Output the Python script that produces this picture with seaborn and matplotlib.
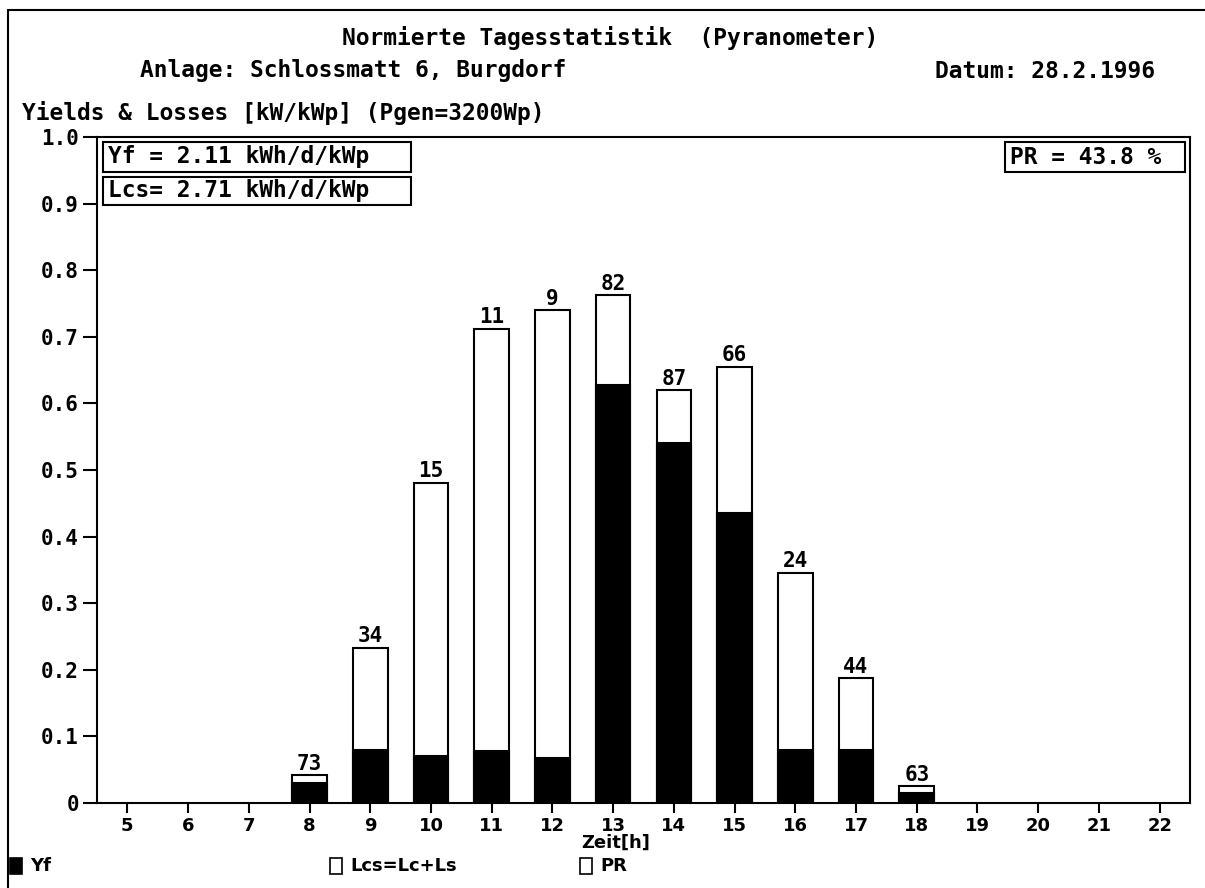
import numpy as np
import pandas as pd
import matplotlib
matplotlib.use("Agg")
import matplotlib.pyplot as plt
import seaborn as sns
from matplotlib.patches import Rectangle
from matplotlib.lines import Line2D

# ---- data ----
hours = [8, 9, 10, 11, 12, 13, 14, 15, 16, 17, 18]
yf = [0.030, 0.079, 0.071, 0.078, 0.068, 0.627, 0.540, 0.435, 0.080, 0.080, 0.015]
lcs = [0.012, 0.154, 0.410, 0.634, 0.672, 0.136, 0.080, 0.220, 0.266, 0.107, 0.010]
pr_labels = [73, 34, 15, 11, 9, 82, 87, 66, 24, 44, 63]
x_ticks = list(range(5, 23))
y_ticks = [0, 0.1, 0.2, 0.3, 0.4, 0.5, 0.6, 0.7, 0.8, 0.9, 1.0]
y_ticklabels = ["0", "0.1", "0.2", "0.3", "0.4", "0.5", "0.6", "0.7", "0.8", "0.9", "1.0"]

title = "Normierte Tagesstatistik  (Pyranometer)"
anlage = "Anlage: Schlossmatt 6, Burgdorf"
datum = "Datum: 28.2.1996"
ylabel = "Yields & Losses [kW/kWp] (Pgen=3200Wp)"
box_yf = "Yf = 2.11 kWh/d/kWp"
box_lcs = "Lcs= 2.71 kWh/d/kWp"
box_pr = "PR = 43.8 %"
xlabel = "Zeit[h]"
legend_items = ["Yf", "Lcs=Lc+Ls", "PR"]

df = pd.DataFrame({"hour": hours, "yf": yf, "lcs": lcs})
df["total"] = df["yf"] + df["lcs"]

sns.set_theme(style="ticks")
plt.rcParams["font.family"] = ["DejaVu Sans Mono", "DejaVu Sans"]
plt.rcParams["font.weight"] = "bold"
plt.rcParams["text.color"] = "black"
plt.rcParams["xtick.color"] = "black"
plt.rcParams["ytick.color"] = "black"

W, H = 1205, 888
fig = plt.figure(figsize=(W / 100, H / 100), dpi=100)
fig.patch.set_facecolor("white")

def fx(px):
    return px / W

def fy(py):
    return 1 - py / H

ax_l, ax_r, ax_t, ax_b = 97, 1190, 137, 803
ax = fig.add_axes([fx(ax_l), fy(ax_b), (ax_r - ax_l) / W, (ax_b - ax_t) / H])
ax.set_facecolor("white")

sns.barplot(data=df, x="hour", y="total", native_scale=True, width=0.57,
            color="white", edgecolor="black", linewidth=1.5, saturation=1,
            errorbar=None, ax=ax)
sns.barplot(data=df, x="hour", y="yf", native_scale=True, width=0.57,
            color="black", edgecolor="black", linewidth=1.5, saturation=1,
            errorbar=None, ax=ax)

for h, t, p in zip(df["hour"], df["total"], pr_labels):
    ax.text(h, t + 0.002, str(p), ha="center", va="bottom",
            fontsize=15, fontweight="bold", color="black")

ax.set_xlim(4.5, 22.5)
ax.set_ylim(0, 1.0)
ax.set_xticks(x_ticks)
ax.set_xticklabels([str(v) for v in x_ticks], fontsize=13, fontweight="bold",
                   family="DejaVu Sans")
ax.set_yticks(y_ticks)
ax.set_yticklabels(y_ticklabels, fontsize=15, fontweight="bold")
ax.tick_params(axis="y", direction="out", length=10, width=1.5, pad=3, colors="black")
ax.tick_params(axis="x", direction="out", length=7, width=1.5, pad=3, colors="black")
ax.set_xlabel("")
ax.set_ylabel("")
for s in ax.spines.values():
    s.set_visible(True)
    s.set_linewidth(1.5)
    s.set_color("black")

# ---- texts ----
FS = 16.5
fig.text(fx(610), fy(38), title, ha="center", va="center", fontsize=FS, fontweight="bold")
fig.text(fx(140), fy(71), anlage, ha="left", va="center", fontsize=FS, fontweight="bold")
fig.text(fx(935), fy(71), datum, ha="left", va="center", fontsize=FS, fontweight="bold")
fig.text(fx(22), fy(113), ylabel, ha="left", va="center", fontsize=FS, fontweight="bold")
fig.text(fx(616), fy(843), xlabel, ha="center", va="center", fontsize=13,
         fontweight="bold", family="DejaVu Sans")

# boxes
def box(x0, y0, x1, y1, text):
    fig.add_artist(Rectangle((fx(x0), fy(y1)), (x1 - x0) / W, (y1 - y0) / H,
                             transform=fig.transFigure, fill=False,
                             edgecolor="black", linewidth=1.5))
    fig.text(fx(x0 + 5), fy((y0 + y1) / 2), text, ha="left", va="center",
             fontsize=FS, fontweight="bold")

box(103, 142, 411, 172, box_yf)
box(103, 177, 411, 205, box_lcs)
box(1005, 142, 1185, 172, box_pr)

# legend
leg_x = [10, 330, 580]
leg_fc = ["black", "white", "white"]
for x0, fc, lab in zip(leg_x, leg_fc, legend_items):
    fig.add_artist(Rectangle((fx(x0), fy(874)), 12 / W, 16 / H,
                             transform=fig.transFigure, facecolor=fc,
                             edgecolor="black", linewidth=1.2))
    fig.text(fx(x0 + 20), fy(866), lab, ha="left", va="center", fontsize=13,
             fontweight="bold", family="DejaVu Sans")

# outer frame (left and top)
fig.add_artist(Line2D([fx(8), fx(8)], [fy(10), fy(888)], transform=fig.transFigure,
                      color="black", linewidth=1.5))
fig.add_artist(Line2D([fx(8), fx(1205)], [fy(10), fy(10)], transform=fig.transFigure,
                      color="black", linewidth=1.5))

fig.savefig("out.png", dpi=100, facecolor="white")
